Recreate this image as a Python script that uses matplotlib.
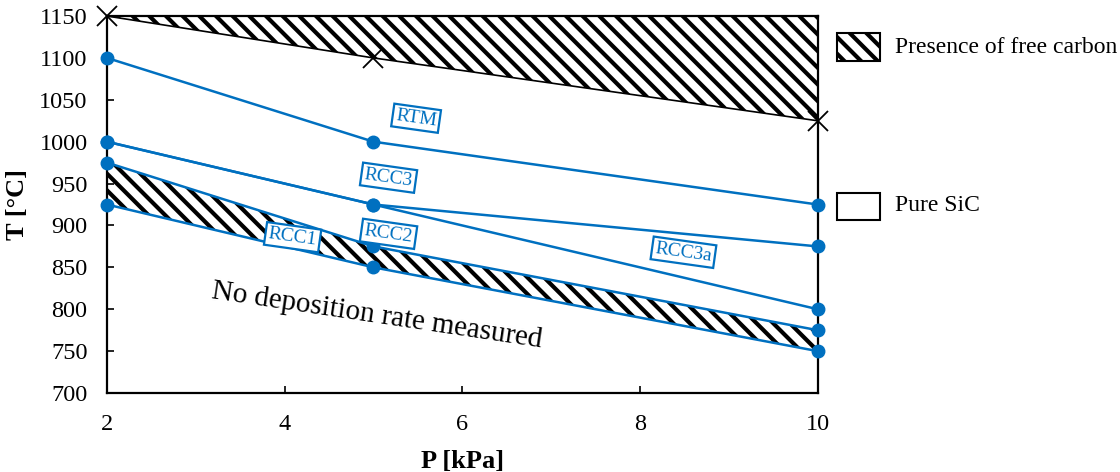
import matplotlib
matplotlib.use("Agg")
import matplotlib.pyplot as plt
from matplotlib.patches import Rectangle

plt.rcParams['font.family'] = ['Liberation Serif', 'DejaVu Serif']
plt.rcParams['hatch.linewidth'] = 3.0
plt.rcParams['hatch.color'] = 'black'

# Data
P = [2, 5, 10]
free_carbon_limit = [1150, 1100, 1025]
RTM = [1100, 1000, 925]
RCC3 = [1000, 925, 875]
RCC3a = [1000, 925, 800]
RCC2 = [975, 875, 775]
RCC1 = [925, 850, 750]
series_names = ["RTM", "RCC3", "RCC3a", "RCC2", "RCC1"]
series_vals = [RTM, RCC3, RCC3a, RCC2, RCC1]
label_pos = {"RTM": (5.48, 1028), "RCC3": (5.17, 957), "RCC2": (5.17, 890),
             "RCC1": (4.09, 886), "RCC3a": (8.49, 868)}
xticks = [2, 4, 6, 8, 10]
yticks = list(range(700, 1151, 50))

blue = '#0070C0'
HATCH = '\\\\'

fig = plt.figure(figsize=(11.2, 4.72), dpi=100)
ax = fig.add_axes([0.0955, 0.1674, 0.6345, 0.7986])

# hatched top region
ax.fill_between(P, free_carbon_limit, [1150] * 3, facecolor='white',
                edgecolor='black', hatch=HATCH, linewidth=0, zorder=1)
ax.plot(P, free_carbon_limit, color='black', lw=1.2, marker='x',
        markersize=14, markeredgewidth=1.3, zorder=3, clip_on=False)

# hatched lower band
ax.fill_between(P, RCC1, RCC2, facecolor='white', edgecolor='black',
                hatch=HATCH, linewidth=0, zorder=1)

for name, vals in zip(series_names, series_vals):
    ax.plot(P, vals, color=blue, lw=1.8, marker='o', markersize=9,
            zorder=4, clip_on=False)

for name, (lx, ly) in label_pos.items():
    ax.text(lx, ly, name, color=blue, fontsize=14, ha='center', va='center',
            rotation=-8, zorder=5,
            bbox=dict(boxstyle='square,pad=0.15', facecolor='white',
                      edgecolor=blue, linewidth=1.6))

ax.text(5.04, 792, "No deposition rate measured", fontsize=21,
        ha='center', va='center', rotation=-8.5, zorder=5)

ax.set_xlim(2, 10)
ax.set_ylim(700, 1150)
ax.set_xticks(xticks)
ax.set_yticks(yticks)
ax.tick_params(direction='in', length=5, width=1.2, labelsize=17.5)
ax.tick_params(axis='x', pad=15)
ax.tick_params(axis='y', pad=14)
for s in ax.spines.values():
    s.set_linewidth(1.6)
    s.set_zorder(2)

ax.set_xlabel("P [kPa]", fontsize=19, fontweight='bold', labelpad=11)
ax.set_ylabel("T [°C]", fontsize=19, fontweight='bold', labelpad=7)

# Legend drawn manually
fig.patches.append(Rectangle((0.747, 0.871), 0.039, 0.059, transform=fig.transFigure,
                             facecolor='white', edgecolor='black', hatch=HATCH,
                             linewidth=1.5))
fig.text(0.799, 0.900, "Presence of free carbon", fontsize=17, va='center', ha='left')
fig.patches.append(Rectangle((0.747, 0.534), 0.039, 0.057, transform=fig.transFigure,
                             facecolor='white', edgecolor='black', linewidth=1.5))
fig.text(0.799, 0.564, "Pure SiC", fontsize=17, va='center', ha='left')

fig.savefig("out.png", dpi=100)
